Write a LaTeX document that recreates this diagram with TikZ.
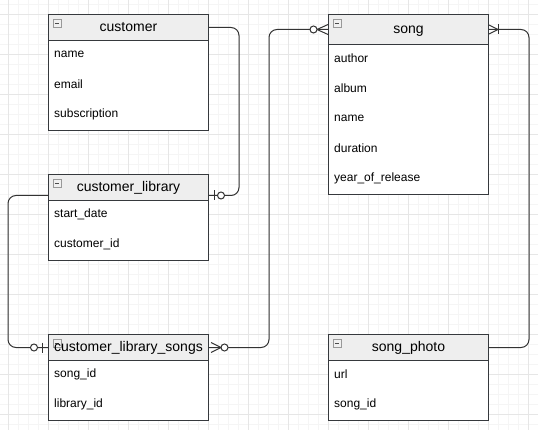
\documentclass[tikz,border=0pt]{standalone}
\usepackage{fontspec}
\setmainfont{Liberation Sans}
\definecolor{gridminor}{HTML}{F5F5F5}
\definecolor{gridmajor}{HTML}{E6E6E6}
\definecolor{hdrfill}{HTML}{EEEEEE}
\definecolor{edgec}{HTML}{36393D}
\definecolor{connc}{HTML}{333333}
\newcommand\colicon[1]{%
  \draw[draw=gray!80, fill=gray!12, line width=0.6pt] ([shift={(5,5)}]#1.north west) rectangle ++(8,8);
  \draw[draw=black!70, line width=0.8pt] ([shift={(6.8,9)}]#1.north west) -- ++(4.4,0);
}
\begin{document}
\begin{tikzpicture}[x=1pt,y=-1pt,
  hdr/.style={draw=edgec, fill=hdrfill, line width=1pt, minimum width=160pt, anchor=north west, inner sep=0pt, font=\fontsize{14}{16}\selectfont, text=black, text height=10pt, text depth=2pt},
  bodybox/.style={draw=edgec, fill=white, line width=1pt, minimum width=160pt, anchor=north west, inner sep=0pt},
  field/.style={anchor=west, inner sep=0pt, font=\fontsize{12}{14}\selectfont, text=black},
  conn/.style={draw=connc, line width=1pt, rounded corners=8pt},
  mk/.style={draw=connc, line width=1pt}]
\useasboundingbox (0,0) rectangle (538,430);
\fill[white] (0,0) rectangle (538,430);
% grid
\foreach \x in {8,18,...,538} \draw[gridminor, line width=0.7pt] (\x,0) -- (\x,430);
\foreach \y in {4,14,...,424} \draw[gridminor, line width=0.7pt] (0,\y) -- (538,\y);
\foreach \x in {8,48,...,528} \draw[gridmajor, line width=0.7pt] (\x,0) -- (\x,430);
\foreach \y in {14,54,...,414} \draw[gridmajor, line width=0.7pt] (0,\y) -- (538,\y);

% customer
\node[bodybox, minimum height=90pt] (custb) at (48,40) {};
\node[hdr, minimum height=26pt] (custh) at (48,14) {customer};
\colicon{custh}
\node[field] (cust1) at (54,54) {name};
\node[field] (cust2) at (54,84) {email};
\node[field] (cust3) at (54,114) {subscription};

% customer_library
\node[bodybox, minimum height=60pt] (clibb) at (48,200) {};
\node[hdr, minimum height=26pt] (clibh) at (48,174) {customer\_library};
\colicon{clibh}
\node[field] (clib1) at (54,214) {start\_date};
\node[field] (clib2) at (54,244) {customer\_id};

% customer_library_songs
\node[bodybox, minimum height=60pt] (clsb) at (48,360) {};
\node[hdr, minimum height=26pt] (clsh) at (48,334) {};
\colicon{clsh}
\node[font=\fontsize{14}{16}\selectfont, text=black, inner sep=0pt, text height=10pt, text depth=2pt] (clst) at (clsh.center) {customer\_library\_songs};
\node[field] (cls1) at (54,374) {song\_id};
\node[field] (cls2) at (54,404) {library\_id};

% song
\node[bodybox, minimum height=150pt] (songb) at (328,44) {};
\node[hdr, minimum height=30pt] (songh) at (328,14) {song};
\colicon{songh}
\node[field] (song1) at (334,58) {author};
\node[field] (song2) at (334,88) {album};
\node[field] (song3) at (334,118) {name};
\node[field] (song4) at (334,148) {duration};
\node[field] (song5) at (334,178) {year\_of\_release};

% song_photo
\node[bodybox, minimum height=60pt] (sphb) at (328,360) {};
\node[hdr, minimum height=26pt] (sphh) at (328,334) {song\_photo};
\colicon{sphh}
\node[field] (sph1) at (334,374) {url};
\node[field] (sph2) at (334,404) {song\_id};

% connection points
\coordinate (p1) at ([yshift=-8pt]clibh.east);
\coordinate (p2) at ([yshift=-8pt]clibh.west);

% connectors
\draw[conn] (custh.east) -- ++(30,0) |- (p1);
\draw[conn] (p2) -- ++(-40,0) |- (clsh.west);
\draw[conn] (clsh.east) -- ++(60,0) |- (songh.west);
\draw[conn] (sphh.east) -- ++(40,0) |- (songh.east);

% marks: zero-or-one at customer_library (right)
\draw[mk] ([shift={(5,-5)}]p1) -- ++(0,10);
\draw[mk, fill=white] ([shift={(12,0)}]p1) circle (3.5pt);
% zero-or-one at customer_library_songs (left)
\draw[mk] ([shift={(-6,-5)}]clsh.west) -- ++(0,10);
\draw[mk, fill=white] ([shift={(-14,0)}]clsh.west) circle (3.5pt);
% zero-to-many at customer_library_songs (right)
\draw[mk] ([shift={(2,-5)}]clsh.east) -- ([shift={(12,0)}]clsh.east) -- ([shift={(2,5)}]clsh.east);
\draw[mk, fill=white] ([shift={(15.5,0)}]clsh.east) circle (3.5pt);
% zero-to-many at song (left)
\draw[mk] ([shift={(0,-5)}]songh.west) -- ([shift={(-11,0)}]songh.west) -- ([shift={(0,5)}]songh.west);
\draw[mk, fill=white] ([shift={(-14.5,0)}]songh.west) circle (3.5pt);
% one-to-many at song (right)
\draw[mk] ([shift={(0,-4.5)}]songh.east) -- ([shift={(9,0)}]songh.east) -- ([shift={(0,4.5)}]songh.east);
\draw[mk] ([shift={(9,-5)}]songh.east) -- ++(0,10);
\end{tikzpicture}
\end{document}
